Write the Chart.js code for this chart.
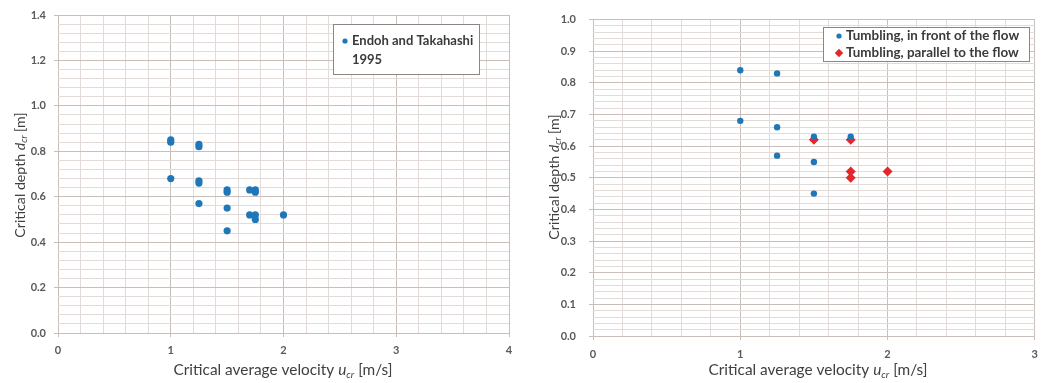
<!DOCTYPE html>
<html>
<head>
<meta charset="utf-8">
<script src="https://cdn.jsdelivr.net/npm/chart.js@4/dist/chart.umd.min.js"></script>
<style>
  html, body { margin: 0; padding: 0; background: #ffffff; }
  #wrap { position: relative; width: 1046px; height: 383px; overflow: hidden; }
  .panel { position: absolute; top: 0; height: 383px; }
  #left { left: 0; width: 520px; }
  #right { left: 525px; width: 521px; }
</style>
</head>
<body>
<div id="wrap">
  <div class="panel" id="left"><canvas id="cLeft" width="520" height="383"></canvas></div>
  <div class="panel" id="right"><canvas id="cRight" width="521" height="383"></canvas></div>
</div>
<script>
// ---- Endoh and Takahashi (1995): critical velocity vs critical depth ----
const leftVelocity = [1.0, 1.0, 1.0, 1.25, 1.25, 1.25, 1.25, 1.25, 1.5, 1.5, 1.5, 1.5, 1.7, 1.75, 1.75, 1.7, 1.75, 1.75, 2.0];
const leftDepth    = [0.85, 0.84, 0.68, 0.83, 0.82, 0.67, 0.66, 0.57, 0.63, 0.62, 0.55, 0.45, 0.63, 0.63, 0.62, 0.52, 0.52, 0.50, 0.52];
const leftLabel = ['Endoh and Takahashi', '1995'];

// ---- Tumbling mode, split by orientation ----
const frontVelocity = [1.0, 1.0, 1.25, 1.25, 1.25, 1.5, 1.5, 1.5, 1.75];
const frontDepth    = [0.84, 0.68, 0.83, 0.66, 0.57, 0.63, 0.55, 0.45, 0.63];
const parallelVelocity = [1.5, 1.75, 1.75, 1.75, 2.0];
const parallelDepth    = [0.62, 0.62, 0.52, 0.50, 0.52];
const frontLabel = 'Tumbling, in front of the flow';
const parallelLabel = 'Tumbling, parallel to the flow';

// ---- Axis ticks (labelled majors) and minor subdivisions ----
const leftXTicks  = [0, 1, 2, 3, 4];
const leftYTicks  = [0.0, 0.2, 0.4, 0.6, 0.8, 1.0, 1.2, 1.4];
const rightXTicks = [0, 1, 2, 3];
const rightYTicks = [0.0, 0.1, 0.2, 0.3, 0.4, 0.5, 0.6, 0.7, 0.8, 0.9, 1.0];
const leftXMinor = 0.2, leftYMinor = 0.04;
const rightXMinor = 0.2, rightYMinor = 0.02;

const xTitleParts = [{t: 'Critical average velocity '}, {t: 'u', i: true}, {t: 'cr', i: true, sub: true}, {t: ' [m/s]'}];
const yTitleParts = [{t: 'Critical depth '}, {t: 'd', i: true}, {t: 'cr', i: true, sub: true}, {t: ' [m]'}];

const FONT = 'Lato, "Open Sans", sans-serif';
const TICK_COLOR = '#595959';
const TITLE_COLOR = '#404040';
const MINOR_GRID = '#e3dbd8';
const MAJOR_GRID = '#c9bfba';
const BLUE = '#1f77b8';
const RED = '#e3262a';

const toPoints = (xs, ys) => xs.map((x, k) => ({x: x, y: ys[k]}));

function isMajor(v, majors) {
  return majors.some(m => Math.abs(m - v) < 1e-6);
}

// ticks at every minor step, labels only on the majors
function axis(majors, minor, decimals, size, pad) {
  const lo = majors[0], hi = majors[majors.length - 1];
  return {
    type: 'linear',
    min: lo,
    max: hi,
    afterBuildTicks(scale) {
      const n = Math.round((hi - lo) / minor);
      const t = [];
      for (let k = 0; k <= n; k++) t.push({value: +(lo + k * minor).toFixed(6)});
      scale.ticks = t;
    },
    afterFit(scale) {
      if (scale.isHorizontal()) scale.height = size; else scale.width = size;
    },
    ticks: {
      autoSkip: false,
      maxRotation: 0,
      minRotation: 0,
      padding: pad,
      color: TICK_COLOR,
      font: {family: FONT, size: 11, weight: 'bold'},
      callback: v => isMajor(v, majors) ? v.toFixed(decimals) : ''
    },
    grid: {
      color: c => isMajor(c.tick.value, majors) ? MAJOR_GRID : MINOR_GRID,
      tickColor: c => isMajor(c.tick.value, majors) ? MAJOR_GRID : 'rgba(0,0,0,0)',
      tickLength: 4,
      lineWidth: 1
    },
    border: {display: false}
  };
}

// rich axis titles (italic symbol with subscript)
function drawRich(ctx, parts, size) {
  const fontOf = p => (p.i ? 'italic ' : '') + (p.sub ? Math.round(size * 0.65) : size) + 'px ' + FONT;
  const widths = parts.map(p => { ctx.font = fontOf(p); return ctx.measureText(p.t).width; });
  const total = widths.reduce((a, b) => a + b, 0);
  let x = -total / 2;
  parts.forEach((p, k) => {
    ctx.font = fontOf(p);
    ctx.fillText(p.t, x, p.sub ? size * 0.28 : 0);
    x += widths[k];
  });
}

const axisTitles = {
  id: 'axisTitles',
  afterDraw(chart, args, o) {
    const ctx = chart.ctx;
    ctx.save();
    ctx.fillStyle = TITLE_COLOR;
    ctx.textBaseline = 'middle';
    ctx.textAlign = 'left';
    ctx.save();
    ctx.translate(o.x.cx, o.x.cy);
    drawRich(ctx, xTitleParts, o.x.size);
    ctx.restore();
    ctx.save();
    ctx.translate(o.y.cx, o.y.cy);
    ctx.rotate(-Math.PI / 2);
    drawRich(ctx, yTitleParts, o.y.size);
    ctx.restore();
    ctx.restore();
  }
};

// framed legend box placed inside the plot
const boxLegend = {
  id: 'boxLegend',
  afterDraw(chart, args, o) {
    const ctx = chart.ctx;
    ctx.save();
    ctx.fillStyle = '#ffffff';
    ctx.fillRect(o.x, o.y, o.w, o.h);
    ctx.strokeStyle = '#8c8584';
    ctx.lineWidth = 1;
    ctx.strokeRect(o.x + 0.5, o.y + 0.5, o.w - 1, o.h - 1);
    ctx.font = 'bold ' + o.size + 'px ' + FONT;
    ctx.textBaseline = 'middle';
    ctx.textAlign = 'left';
    let y = o.y + o.first;
    chart.data.datasets.forEach(ds => {
      const lines = Array.isArray(ds.label) ? ds.label : [ds.label];
      ctx.fillStyle = ds.backgroundColor;
      ctx.strokeStyle = ds.borderColor;
      Chart.helpers.drawPoint(ctx, {pointStyle: ds.pointStyle, radius: ds.legendRadius, borderWidth: 0}, o.x + o.mark, y);
      ctx.fillStyle = '#3a3a3a';
      lines.forEach((ln, k) => ctx.fillText(ln, o.x + o.text, y + k * o.line));
      y += lines.length * o.line;
    });
    ctx.restore();
  }
};

Chart.defaults.animation = false;
Chart.defaults.font.family = FONT;

new Chart(document.getElementById('cLeft'), {
  type: 'scatter',
  data: {
    datasets: [{
      label: leftLabel,
      data: toPoints(leftVelocity, leftDepth),
      pointStyle: 'circle',
      pointRadius: 3.6,
      legendRadius: 2.6,
      backgroundColor: BLUE,
      borderColor: BLUE,
      borderWidth: 0
    }]
  },
  options: {
    responsive: false,
    layout: {padding: {left: 0, top: 15, right: 11, bottom: 0}},
    plugins: {
      legend: {display: false},
      tooltip: {enabled: false},
      axisTitles: {x: {cx: 283, cy: 370, size: 15.4}, y: {cx: 20, cy: 175, size: 14.2}},
      boxLegend: {x: 333, y: 24, w: 147, h: 51, size: 13, first: 17, line: 19, mark: 12, text: 19}
    },
    scales: {
      x: axis(leftXTicks, leftXMinor, 0, 50, 7),
      y: axis(leftYTicks, leftYMinor, 1, 58, 8)
    }
  },
  plugins: [axisTitles, boxLegend]
});

new Chart(document.getElementById('cRight'), {
  type: 'scatter',
  data: {
    datasets: [{
      label: frontLabel,
      data: toPoints(frontVelocity, frontDepth),
      pointStyle: 'circle',
      pointRadius: 3.2,
      legendRadius: 2.6,
      backgroundColor: BLUE,
      borderColor: BLUE,
      borderWidth: 0
    }, {
      label: parallelLabel,
      data: toPoints(parallelVelocity, parallelDepth),
      pointStyle: 'rectRot',
      pointRadius: 5,
      legendRadius: 4.2,
      backgroundColor: RED,
      borderColor: RED,
      borderWidth: 0
    }]
  },
  options: {
    responsive: false,
    layout: {padding: {left: 0, top: 17, right: 3, bottom: 0}},
    plugins: {
      legend: {display: false},
      tooltip: {enabled: false},
      axisTitles: {x: {cx: 293, cy: 370, size: 15.4}, y: {cx: 29, cy: 177, size: 14.2}},
      boxLegend: {x: 298, y: 27, w: 207, h: 35, size: 13.4, first: 9, line: 17, mark: 16, text: 23}
    },
    scales: {
      x: axis(rightXTicks, rightXMinor, 0, 47, 8),
      y: axis(rightYTicks, rightYMinor, 1, 68, 13)
    }
  },
  plugins: [axisTitles, boxLegend]
});
</script>
</body>
</html>
